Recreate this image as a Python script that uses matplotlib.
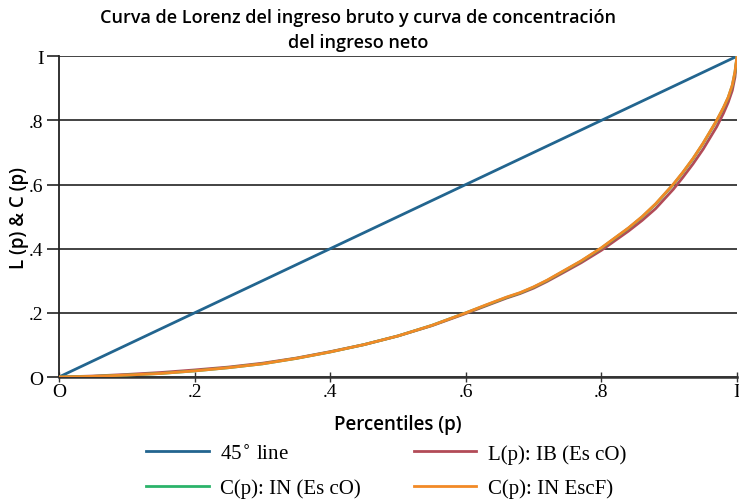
import numpy as np
import matplotlib
matplotlib.use("Agg")
import matplotlib.pyplot as plt

# percentiles and curve ordinates
p = [0, 0.05, 0.1, 0.15, 0.2, 0.25, 0.3, 0.35, 0.4, 0.45, 0.5, 0.55, 0.6, 0.63, 0.66, 0.68, 0.7, 0.72,
     0.74, 0.77, 0.8, 0.84, 0.86, 0.88, 0.906, 0.92, 0.935, 0.95, 0.97, 0.98, 0.987, 0.993, 0.997, 1.0]
lp_ib = [0, 0.003, 0.008, 0.014, 0.022, 0.031, 0.043, 0.059, 0.079, 0.101, 0.128, 0.160, 0.198, 0.222,
         0.246, 0.260, 0.277, 0.298, 0.321, 0.356, 0.395, 0.455, 0.488, 0.525, 0.585, 0.622, 0.664,
         0.71, 0.78, 0.822, 0.856, 0.893, 0.935, 1.0]
cp_in = [0, 0.002, 0.006, 0.011, 0.019, 0.029, 0.041, 0.058, 0.078, 0.101, 0.128, 0.161, 0.200, 0.224,
         0.248, 0.262, 0.280, 0.301, 0.325, 0.361, 0.402, 0.464, 0.499, 0.539, 0.600, 0.637, 0.680,
         0.728, 0.799, 0.839, 0.871, 0.908, 0.95, 1.0]
cp_escf = [0, 0.002, 0.006, 0.011, 0.019, 0.029, 0.041, 0.058, 0.078, 0.101, 0.128, 0.161, 0.200, 0.225,
           0.249, 0.263, 0.281, 0.302, 0.326, 0.362, 0.403, 0.465, 0.500, 0.540, 0.601, 0.638, 0.681,
           0.729, 0.800, 0.840, 0.872, 0.91, 0.952, 1.0]
diag = [0, 1]

xticks = [0, 0.2, 0.4, 0.6, 0.8, 1.0]
ticklabels = ['O', '.2', '.4', '.6', '.8', 'I']

colors = {'diag': '#22658f', 'lp': '#b24b57', 'cin': '#2bb36a', 'escf': '#f28a26'}
serif = ['Liberation Serif', 'DejaVu Serif']
sans = ['Open Sans', 'DejaVu Sans']

fig = plt.figure(figsize=(7.39, 5.02), dpi=100)
ax = fig.add_axes([0.0798, 0.247, 0.9175, 0.639])

h_diag, = ax.plot(diag, diag, color=colors['diag'], lw=2, label='45$^{\\circ}$ line', zorder=3)
h_lp, = ax.plot(p, lp_ib, color=colors['lp'], lw=2, label='L(p): IB (Es cO)', zorder=3)
h_cin, = ax.plot(p, cp_in, color=colors['cin'], lw=2, label='C(p): IN (Es cO)', zorder=3)
h_escf, = ax.plot(p, cp_escf, color=colors['escf'], lw=2, label='C(p): IN EscF)', zorder=4)

ax.set_xlim(0, 1)
ax.set_ylim(0, 1)
ax.set_xticks(xticks)
ax.set_xticklabels(ticklabels, fontfamily=serif, fontsize=14)
ax.set_yticks(xticks)
ax.set_yticklabels(ticklabels, fontfamily=serif, fontsize=14)
ax.tick_params(axis='x', direction='inout', length=7, width=1, color='#333333', pad=1)
ax.tick_params(axis='y', direction='out', length=9, width=1.2, color='#222222', pad=2)
ax.grid(axis='y', color='#222222', lw=1.2)
for s in ['top', 'right']:
    ax.spines[s].set_visible(False)
ax.spines['left'].set_color('#222222')
ax.spines['bottom'].set_color('#333333')
ax.spines['left'].set_linewidth(1.3)
ax.spines['bottom'].set_linewidth(1.8)

ax.set_xlabel('Percentiles (p)', fontfamily=sans, fontsize=13.5, fontweight='semibold', labelpad=10)
ax.set_ylabel('L (p) & C (p)', fontfamily=sans, fontsize=13.5, fontweight='semibold')
ax.yaxis.set_label_coords(-0.044, 0.5)

fig.text(0.485, 0.983, 'Curva de Lorenz del ingreso bruto y curva de concentración\ndel ingreso neto',
         ha='center', va='top', fontfamily=sans, fontsize=13, fontweight='semibold', linespacing=1.5)

# legend filled column-wise: 45° / C(p) IN in the first column
fig.legend([h_diag, h_cin, h_lp, h_escf],
           [h.get_label() for h in [h_diag, h_cin, h_lp, h_escf]],
           loc='upper left', bbox_to_anchor=(0.1976, 0.1135), ncol=2, frameon=False,
           prop={'family': serif, 'size': 15}, handlelength=3.0, columnspacing=2.55,
           labelspacing=0.7, handletextpad=0.55, borderpad=0, borderaxespad=0)

fig.savefig('out.png', dpi=100)
